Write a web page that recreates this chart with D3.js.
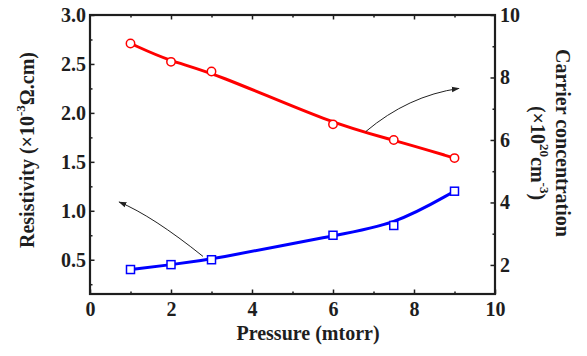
<!DOCTYPE html>
<html>
<head>
<meta charset="utf-8">
<script src="https://cdn.jsdelivr.net/npm/d3@7"></script>
<style>
  body { margin: 0; background: #fff; }
</style>
</head>
<body>
<div id="chart"></div>
<script>
// values
const pressure = [1, 2, 3, 6, 7.5, 9];
const resistivity = [0.40, 0.45, 0.50, 0.75, 0.85, 1.20];
const carrier = [9.09, 8.50, 8.19, 6.50, 6.00, 5.42];

const xTicks = [0, 2, 4, 6, 8, 10];
const xMinor = [1, 3, 5, 7, 9];
const leftTicks = [0.5, 1.0, 1.5, 2.0, 2.5, 3.0];
const leftMinor = [0.25, 0.75, 1.25, 1.75, 2.25, 2.75];
const rightTicks = [2, 4, 6, 8, 10];
const rightMinor = [3, 5, 7, 9];

// arrows: start, control, end (data units of the axis they point from)
const arrowLeft = [[2.79, 0.534], [1.556, 0.944], [0.72, 1.09]];
const arrowRight = [[6.81, 6.27], [7.85, 7.41], [9.11, 7.65]];

const W = 587, H = 356;
const m = { top: 15, right: 92, bot: 62, left: 90 };
const w = W - m.left - m.right;
const h = H - m.top - m.bot;
const FONT = "'Liberation Serif', 'Times New Roman', serif";
const ink = "#1e1e1e";

const x = d3.scaleLinear().domain([0, 10]).range([0, w]);
const yL = d3.scaleLinear().domain([0.15, 3.0]).range([h, 0]);
const yR = d3.scaleLinear().domain([1.07, 10]).range([h, 0]);

const svg = d3.select("#chart").append("svg")
  .attr("width", W).attr("height", H);
svg.append("defs").append("marker")
  .attr("id", "head")
  .attr("viewBox", "0 0 10 10")
  .attr("refX", 9).attr("refY", 5)
  .attr("markerWidth", 8).attr("markerHeight", 8)
  .attr("markerUnits", "userSpaceOnUse")
  .attr("orient", "auto")
  .append("path").attr("d", "M0,1.5L10,5L0,8.5z").attr("fill", "#222");

const g = svg.append("g").attr("transform", `translate(${m.left},${m.top})`);

function minor(axis, vals) {
  return axis.tickValues(vals).tickSizeInner(-2.5).tickSizeOuter(0).tickFormat("");
}
function styleAxis(sel) {
  sel.attr("font-family", FONT).attr("font-weight", "bold").attr("font-size", 20);
  sel.select(".domain").remove();
  sel.selectAll("line").attr("stroke", ink).attr("stroke-width", 1.5);
  sel.selectAll("text").attr("fill", ink);
}

// minor ticks
g.append("g").attr("transform", `translate(0,${h})`).call(minor(d3.axisBottom(x), xMinor)).call(styleAxis);
g.append("g").call(minor(d3.axisTop(x), xMinor)).call(styleAxis);
g.append("g").call(minor(d3.axisLeft(yL), leftMinor)).call(styleAxis);
g.append("g").attr("transform", `translate(${w},0)`).call(minor(d3.axisRight(yR), rightMinor)).call(styleAxis);

// major ticks
g.append("g").attr("transform", `translate(0,${h})`)
  .call(d3.axisBottom(x).tickValues(xTicks).tickSizeInner(-4.5).tickSizeOuter(0).tickPadding(8).tickFormat(d3.format("d")))
  .call(styleAxis);
g.append("g")
  .call(d3.axisTop(x).tickValues(xTicks.slice(1, -1)).tickSizeInner(-4.5).tickSizeOuter(0).tickFormat(""))
  .call(styleAxis);
g.append("g")
  .call(d3.axisLeft(yL).tickValues(leftTicks).tickSizeInner(-4.5).tickSizeOuter(0).tickPadding(4).tickFormat(d3.format(".1f")))
  .call(styleAxis);
g.append("g").attr("transform", `translate(${w},0)`)
  .call(d3.axisRight(yR).tickValues(rightTicks).tickSizeInner(-4.5).tickSizeOuter(0).tickPadding(5).tickFormat(d3.format("d")))
  .call(styleAxis);

// frame
g.append("rect").attr("width", w).attr("height", h)
  .attr("fill", "none").attr("stroke", ink).attr("stroke-width", 2.2);

// lines
const blueLine = d3.line().curve(d3.curveBasis)
  .x((d, i) => x(pressure[i])).y(d => yL(d));
const redLine = d3.line().curve(d3.curveBasis)
  .x((d, i) => x(pressure[i])).y(d => yR(d));

g.append("path").datum(carrier).attr("d", redLine)
  .attr("fill", "none").attr("stroke", "#ff0000").attr("stroke-width", 3);
g.append("path").datum(resistivity).attr("d", blueLine)
  .attr("fill", "none").attr("stroke", "#0000ff").attr("stroke-width", 3);

g.selectAll(".red").data(carrier).enter().append("circle")
  .attr("class", "red")
  .attr("cx", (d, i) => x(pressure[i])).attr("cy", d => yR(d))
  .attr("r", 4.2).attr("fill", "#fff").attr("stroke", "#ff0000").attr("stroke-width", 1.5);
g.selectAll(".blue").data(resistivity).enter().append("rect")
  .attr("class", "blue")
  .attr("x", (d, i) => x(pressure[i]) - 4).attr("y", d => yL(d) - 4)
  .attr("width", 8).attr("height", 8)
  .attr("fill", "#fff").attr("stroke", "#0000ff").attr("stroke-width", 1.5);

// arrows
function arrow(pts, ys) {
  const p = d3.path();
  p.moveTo(x(pts[0][0]), ys(pts[0][1]));
  p.quadraticCurveTo(x(pts[1][0]), ys(pts[1][1]), x(pts[2][0]), ys(pts[2][1]));
  g.append("path").attr("d", p.toString())
    .attr("fill", "none").attr("stroke", "#222").attr("stroke-width", 1)
    .attr("marker-end", "url(#head)");
}
arrow(arrowLeft, yL);
arrow(arrowRight, yR);

// axis titles
function title(sel) {
  return sel.attr("font-family", FONT).attr("font-weight", "bold")
    .attr("font-size", 20).attr("fill", ink).attr("text-anchor", "middle");
}
svg.append("text").call(title)
  .attr("x", 308).attr("y", 340)
  .text("Pressure (mtorr)");

const lt = svg.append("text").call(title)
  .attr("transform", "translate(34,150) rotate(-90)");
lt.append("tspan").text("Resistivity (\u00d710");
lt.append("tspan").attr("font-size", 13).attr("dy", -9).text("-3");
lt.append("tspan").attr("dy", 9).text("\u03a9.cm)");

svg.append("text").call(title)
  .attr("transform", "translate(556,143) rotate(90)")
  .text("Carrier concentration");
const rt = svg.append("text").call(title)
  .attr("transform", "translate(531,153) rotate(90)");
rt.append("tspan").text("(\u00d710");
rt.append("tspan").attr("font-size", 13).attr("dy", -9).text("20");
rt.append("tspan").attr("dy", 9).text("cm");
rt.append("tspan").attr("font-size", 13).attr("dy", -9).text("-3");
rt.append("tspan").attr("dy", 9).text(")");
</script>
</body>
</html>
